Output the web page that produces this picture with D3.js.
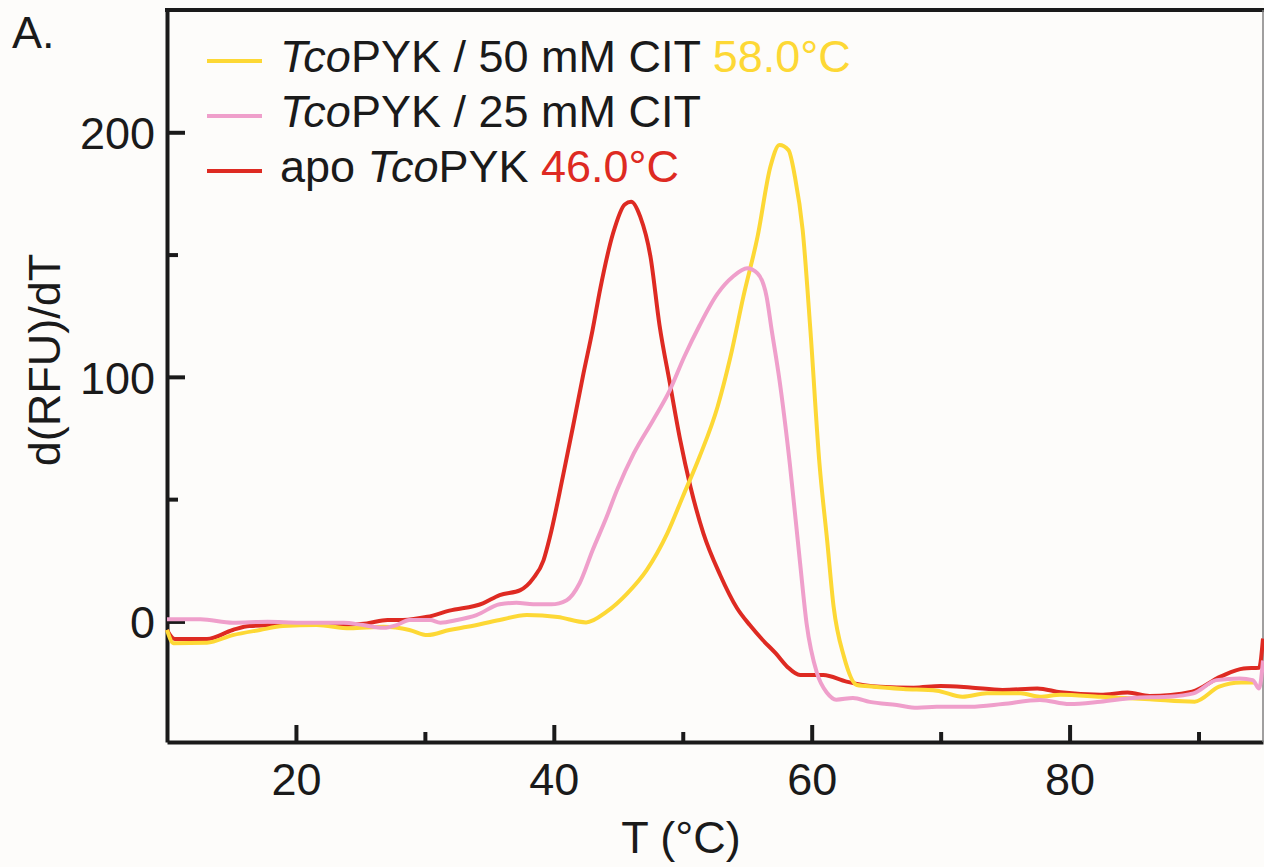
<!DOCTYPE html>
<html>
<head>
<meta charset="utf-8">
<script src="https://cdn.jsdelivr.net/npm/d3@7"></script>
<style>
  html, body { margin: 0; padding: 0; background: #fdfcfa; }
  svg { display: block; font-family: "Liberation Sans", Arial, sans-serif; }
  .axis path, .axis line { stroke: #1a1a1a; }
  .axis text { fill: #1a1a1a; font-size: 45px; font-family: "Liberation Sans", Arial, sans-serif; }
</style>
</head>
<body>
<svg id="chart" width="1264" height="867"></svg>
<script>
// melt curve derivative traces (T in °C, d(RFU)/dT)
var apoT = [10, 10.6, 13.1, 15.1, 16.4, 19, 21.1, 23.2, 25.5, 27.1, 28.3, 30.2, 31.9, 34.5, 35.8, 37.4, 38.4, 39.2,
    39.7, 40.7, 41.5, 42.3, 43.0, 43.6, 44.6, 45.5, 46.0, 46.7, 47.5, 48.2, 49.0, 49.8, 50.6, 51.6, 52.9, 54.2,
    55.2, 56.2, 57.2, 58.1, 59.1, 60.9, 62.7, 65.3, 67.9, 70, 72.3, 74.8, 77.5, 79.3, 82.4, 84.5, 86.2, 89.5,
    91.7, 93.5, 94.7, 95];
var apoV = [-3.5, -7.2, -7.2, -3.5, -1.9, -1.5, -1.5, -1.5, -0.8, 0.6, 0.6, 1.9, 4.4, 7.4, 10.8, 12.8, 17.6, 25,
    34.6, 59.2, 80, 101.4, 119, 136, 158.8, 170.5, 171.6, 165.5, 149, 121, 97.4, 74.2, 55, 36, 19, 5.5,
    -1.5, -7.6, -13, -18.5, -21.9, -21.9, -24.6, -26.7, -27.1, -26.4, -27, -28, -27.4, -29, -30, -29.1, -30.5, -28.7,
    -22.6, -19.2, -18.9, -7];

var cit25T = [10, 12.6, 15.1, 17.8, 20.3, 23.7, 25.2, 26.8, 27.8, 28.8, 30.4, 31.2, 32.5, 34, 35.8, 37.1, 38.4,
    39.8, 41, 42, 43, 44.1, 44.9, 46.2, 47.7, 49, 50.1, 51.3, 52.7, 53.9, 55, 55.8, 56.5, 56.9, 57.5, 58.3, 59.1,
    59.6, 60.4, 61.2, 61.9, 63.2, 64.5, 66.6, 68.2, 69.7, 72.3, 74.8, 77.7, 80, 82.4, 84.9, 87.6, 89.6, 91.4,
    93.2, 94.2, 94.7, 95];
var cit25V = [0.9, 0.9, -0.5, -0.1, -0.5, -0.5, -1.5, -2.6, -1.5, 0.6, 0.6, -0.5, 0.6, 2.6, 7, 7.6, 7,
    7, 8.7, 15.6, 29, 42.8, 53.7, 68.7, 82.3, 94.6, 108, 121, 134, 141, 144.4, 142.3, 132.8, 119, 98.7, 64.6, 23.8,
    -0.7, -21, -29.3, -32, -31.3, -32.9, -34.2, -35.3, -34.9, -34.9, -33.8, -32.1, -33.8, -32.8, -31.3, -30.8, -29.4, -24,
    -23.3, -24, -27.4, -16];

var cit50T = [10, 10.5, 13.1, 15.1, 17.2, 19, 21.6, 24.2, 26.8, 28.8, 30.2, 31.9, 33.3, 35.8, 37.9, 40.3, 42.5,
    44.1, 45.7, 47.2, 48.8, 50, 51.3, 52.7, 53.7, 54.7, 55.8, 56.8, 57.5, 58.2, 58.7, 59.3, 59.9, 60.6, 61.2,
    61.7, 62.5, 63.5, 64.8, 67.1, 69.7, 71.7, 73.6, 76.2, 77.7, 79.3, 82.4, 86.2, 89.7, 91.6, 93.3, 94.3];
var cit50V = [-3.5, -8.9, -8.7, -5.6, -3.5, -1.9, -1.5, -2.8, -2.2, -3.5, -5.6, -3.5, -2.2, 0.6, 2.6, 1.8, -0.4,
    4, 11.5, 21, 36, 51, 67.3, 87.8, 108.2, 132.8, 157.3, 186, 194.8, 192.7, 181.8, 160, 119, 64.6, 33,
    6, -14.4, -26, -26.7, -27.6, -28.3, -30.8, -29.4, -29.4, -30.8, -30, -30.8, -31.8, -32.8, -26.7, -25, -25];

var xMajor = [20, 40, 60, 80];
var xMinor = [30, 50, 70, 90];
var yMajor = [0, 100, 200];
var yMinor = [50, 150];

var colors = { cit50: "#fdd835", cit25: "#ef9fcb", apo: "#de2a22" };

var svg = d3.select("#chart");
var plotLeft = 167, plotRight = 1263, plotTop = 10, plotBottom = 742;

var x = d3.scaleLinear().domain([10, 95]).range([plotLeft, plotRight]);
var y = d3.scaleLinear().domain([-49.3, 250]).range([plotBottom, plotTop]);

// axes, ticks pointing into the plot
var gx = svg.append("g").attr("class", "axis").attr("transform", "translate(0," + plotBottom + ")");
gx.call(d3.axisBottom(x).tickValues(xMajor).tickSize(-17).tickSizeOuter(0).tickPadding(21));
svg.append("g").attr("class", "axis").attr("transform", "translate(0," + plotBottom + ")")
    .call(d3.axisBottom(x).tickValues(xMinor).tickSize(-10).tickSizeOuter(0).tickFormat(""))
    .select(".domain").remove();

var gy = svg.append("g").attr("class", "axis").attr("transform", "translate(" + plotLeft + ",0)");
gy.call(d3.axisLeft(y).tickValues(yMajor).tickSize(-18).tickSizeOuter(0).tickPadding(12));
gy.selectAll("text").attr("dy", "0.36em");
svg.append("g").attr("class", "axis").attr("transform", "translate(" + plotLeft + ",0)")
    .call(d3.axisLeft(y).tickValues(yMinor).tickSize(-11).tickSizeOuter(0).tickFormat(""))
    .select(".domain").remove();

svg.selectAll(".axis path, .axis line").attr("stroke-width", 4);

// frame: top and right edges
svg.append("line").attr("x1", plotLeft - 2).attr("x2", 1264).attr("y1", plotTop).attr("y2", plotTop)
    .attr("stroke", "#1a1a1a").attr("stroke-width", 4);
svg.append("line").attr("x1", plotRight).attr("x2", plotRight).attr("y1", plotTop).attr("y2", plotBottom)
    .attr("stroke", "#808080").attr("stroke-width", 1.5);

// curves
var line = d3.line()
    .x(function(d) { return x(d[0]); })
    .y(function(d) { return y(d[1]); })
    .curve(d3.curveMonotoneX);

var series = [
    { key: "apo", t: apoT, v: apoV },
    { key: "cit50", t: cit50T, v: cit50V },
    { key: "cit25", t: cit25T, v: cit25V },
];

series.forEach(function(s) {
    var pts = d3.zip(s.t, s.v);
    svg.append("path")
        .datum(pts)
        .attr("d", line)
        .attr("fill", "none")
        .attr("stroke", colors[s.key])
        .attr("stroke-width", 4)
        .attr("stroke-linejoin", "round");
});

// axis titles
svg.append("text")
    .attr("x", 681).attr("y", 853)
    .attr("text-anchor", "middle")
    .attr("font-size", 45).attr("fill", "#1a1a1a")
    .text("T (°C)");

svg.append("text")
    .attr("transform", "translate(60,360) rotate(-90)")
    .attr("text-anchor", "middle")
    .attr("font-size", 45).attr("fill", "#1a1a1a")
    .text("d(RFU)/dT");

svg.append("text")
    .attr("x", 12).attr("y", 48)
    .attr("font-size", 45).attr("fill", "#1a1a1a")
    .text("A.");

// legend
var legend = [
    { key: "cit50", parts: [["Tco", "italic"], ["PYK / 50 mM CIT ", "normal"], ["58.0°C", "normal", colors.cit50]] },
    { key: "cit25", parts: [["Tco", "italic"], ["PYK / 25 mM CIT", "normal"]] },
    { key: "apo", parts: [["apo ", "normal"], ["Tco", "italic"], ["PYK ", "normal"], ["46.0°C", "normal", colors.apo]] },
];

legend.forEach(function(item, i) {
    var base = 72 + i * 55;
    svg.append("line")
        .attr("x1", 207).attr("x2", 262)
        .attr("y1", base - 11).attr("y2", base - 11)
        .attr("stroke", colors[item.key]).attr("stroke-width", 4);
    var t = svg.append("text")
        .attr("x", 280).attr("y", base)
        .attr("font-size", 45).attr("fill", "#1a1a1a")
        .attr("xml:space", "preserve")
        .style("white-space", "pre");
    item.parts.forEach(function(p) {
        t.append("tspan")
            .attr("font-style", p[1])
            .attr("fill", p[2] || "#1a1a1a")
            .text(p[0]);
    });
});
</script>
</body>
</html>
